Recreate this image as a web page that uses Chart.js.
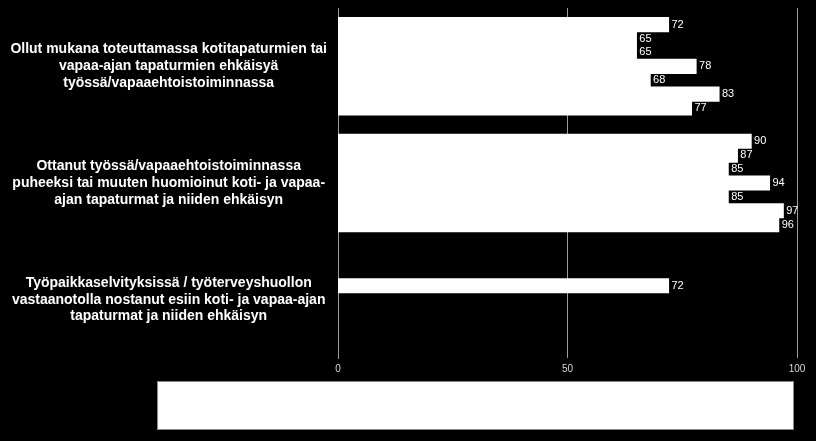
<!DOCTYPE html>
<html>
<head>
<meta charset="utf-8">
<script src="https://cdn.jsdelivr.net/npm/chart.js@4"></script>
<style>
  body { margin: 0; background: #000; }
  #wrap { width: 816px; height: 441px; }
</style>
</head>
<body>
<div id="wrap"><canvas id="kaavio" width="816" height="441"></canvas></div>
<script>
// kysymykset (kategoriat)
const kategoriat = [
  ["Ollut mukana toteuttamassa kotitapaturmien tai", "vapaa-ajan tapaturmien ehkäisyä", "työssä/vapaaehtoistoiminnassa"],
  ["Ottanut työssä/vapaaehtoistoiminnassa", "puheeksi tai muuten huomioinut koti- ja vapaa-", "ajan tapaturmat ja niiden ehkäisyn"],
  ["Työpaikkaselvityksissä / työterveyshuollon", "vastaanotolla nostanut esiin koti- ja vapaa-ajan", "tapaturmat ja niiden ehkäisyn"]
];

// sarjat ylhäältä alas
const sarjat = ["Sarja 1", "Sarja 2", "Sarja 3", "Sarja 4", "Sarja 5", "Sarja 6", "Sarja 7"];
const arvot = [
  [72, 90, null],
  [65, 87, null],
  [65, 85, 72],
  [78, 94, null],
  [68, 85, null],
  [83, 97, null],
  [77, 96, null]
];

const xTicks = [0, 50, 100];

// arvot palkkien perään
const arvoTekstit = {
  id: "arvoTekstit",
  afterDatasetsDraw(chart) {
    const ctx = chart.ctx;
    ctx.save();
    ctx.font = "11px 'Liberation Sans', Arial, sans-serif";
    ctx.fillStyle = "#ffffff";
    ctx.textAlign = "left";
    ctx.textBaseline = "middle";
    chart.data.datasets.forEach((ds, i) => {
      chart.getDatasetMeta(i).data.forEach((bar, j) => {
        if (ds.data[j] == null) return;
        ctx.fillText(ds.data[j], bar.x + 3, bar.y);
      });
    });
    ctx.restore();
  }
};

// tyhjä valkoinen selitelaatikko alareunassa
const seliteLaatikko = {
  id: "seliteLaatikko",
  afterDraw(chart) {
    const ctx = chart.ctx;
    ctx.save();
    ctx.fillStyle = "#ffffff";
    ctx.fillRect(157, 381, 637, 49);
    ctx.strokeStyle = "#888888";
    ctx.lineWidth = 1;
    ctx.strokeRect(157.5, 381.5, 636, 48);
    ctx.restore();
  }
};

const ctx = document.getElementById("kaavio").getContext("2d");
new Chart(ctx, {
  type: "bar",
  data: {
    labels: kategoriat,
    datasets: sarjat.map((nimi, i) => ({
      label: nimi,
      data: arvot[i],
      backgroundColor: "#ffffff",
      borderWidth: 0,
      inflateAmount: 0.6,
      categoryPercentage: 0.834,
      barPercentage: 1
    }))
  },
  options: {
    indexAxis: "y",
    responsive: false,
    animation: false,
    devicePixelRatio: 1,
    layout: { padding: { top: 8, right: 19, left: 0, bottom: 0 } },
    plugins: {
      legend: { display: false },
      tooltip: { enabled: false }
    },
    scales: {
      x: {
        min: 0,
        max: 100,
        afterBuildTicks(scale) {
          scale.ticks = xTicks.map(v => ({ value: v }));
        },
        afterFit(scale) {
          scale.height = 83;
          scale.paddingLeft = 0;
          scale.paddingRight = 0;
        },
        grid: { color: "#9a9a9a", lineWidth: 1, drawTicks: false },
        border: { display: false },
        ticks: {
          color: "#d8d8d8",
          padding: 5,
          font: { family: "'Liberation Sans', Arial, sans-serif", size: 10 }
        }
      },
      y: {
        afterFit(scale) {
          scale.width = 338;
          scale.paddingTop = 0;
          scale.paddingBottom = 0;
        },
        grid: { display: false, drawTicks: false },
        border: { display: true, color: "#9a9a9a", width: 1 },
        ticks: {
          color: "#ffffff",
          padding: 11,
          crossAlign: "center",
          font: { family: "'Liberation Sans', Arial, sans-serif", size: 14, weight: "bold", lineHeight: 1.2 }
        }
      }
    }
  },
  plugins: [arvoTekstit, seliteLaatikko]
});
</script>
</body>
</html>
